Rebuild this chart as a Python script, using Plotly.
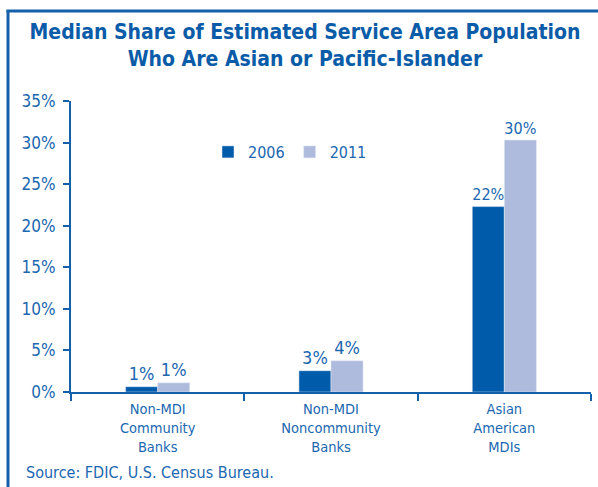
import plotly.graph_objects as go

categories = ["Non-MDI<br>Community<br>Banks", "Non-MDI<br>Noncommunity<br>Banks", "Asian<br>American<br>MDIs"]
values_2006 = [0.64, 2.56, 22.3]
values_2011 = [1.1, 3.76, 30.3]
labels_2006 = ["1%", "3%", "22%"]
labels_2011 = ["1%", "4%", "30%"]
y_ticks = [0, 5, 10, 15, 20, 25, 30, 35]
y_tick_labels = [f"{v}%" for v in y_ticks]

FONT = "DejaVu Sans Condensed, Liberation Sans Narrow, sans-serif"
TXT = "#2067B0"
DARK = "#005BAA"
LIGHT = "#AEBBDD"
FRAME = "#1460AA"

W, H = 598, 487
L, R, T, B = 71, 7, 101, 95
pw, ph = W - L - R, H - T - B

def px_x(x):
    return (x - L) / pw

def px_y(y):
    return (H - B - y) / ph

fig = go.Figure()
fig.add_trace(go.Bar(name="2006", x=categories, y=values_2006, marker_color=DARK,
                     text=labels_2006, textposition="outside", cliponaxis=False,
                     textfont=dict(family=FONT, size=18, color=TXT)))
fig.add_trace(go.Bar(name="2011", x=categories, y=values_2011, marker_color=LIGHT,
                     text=labels_2011, textposition="outside", cliponaxis=False,
                     textfont=dict(family=FONT, size=18, color=TXT)))

fig.update_layout(
    width=W, height=H,
    margin=dict(l=L, r=R, t=T, b=B),
    paper_bgcolor="white", plot_bgcolor="white",
    barmode="group", bargap=0.63, bargroupgap=0,
    font=dict(family=FONT, color=TXT, size=16),
    title=dict(text="<b>Median Share of Estimated Service Area Population<br>Who Are Asian or Pacific-Islander</b>",
               x=0.51, xanchor="center", y=1 - 39 / H, yanchor="middle",
               font=dict(family=FONT, size=21, color="#0B5CA8")),
    legend=dict(orientation="h", x=px_x(208), y=px_y(152), xanchor="left", yanchor="middle",
                font=dict(family=FONT, size=16, color=TXT), bgcolor="rgba(0,0,0,0)",
                itemwidth=30, traceorder="normal"),
    xaxis=dict(showline=True, linecolor=FRAME, linewidth=2, ticks="outside", tickson="boundaries",
               ticklen=7, tickcolor=FRAME, tickwidth=2, ticklabelstandoff=3,
               tickfont=dict(family=FONT, size=14.5, color=TXT), showgrid=False),
    yaxis=dict(range=[0, 35], tickvals=y_ticks, ticktext=y_tick_labels, showline=True,
               linecolor=FRAME, linewidth=2, ticks="outside", ticklen=6, tickcolor=FRAME, tickwidth=2,
               ticklabelstandoff=4,
               tickfont=dict(family=FONT, size=17, color=TXT), showgrid=False, zeroline=False),
    shapes=[
        dict(type="line", xref="paper", yref="paper", x0=px_x(8), x1=px_x(8), y0=px_y(10), y1=px_y(500),
             line=dict(color=FRAME, width=3)),
        dict(type="line", xref="paper", yref="paper", x0=px_x(6.5), x1=px_x(610), y0=px_y(11), y1=px_y(11),
             line=dict(color=FRAME, width=3)),
    ],
    annotations=[
        dict(text="Source: FDIC, U.S. Census Bureau.", xref="paper", yref="paper",
             x=px_x(24), y=px_y(472), xanchor="left", yanchor="middle", showarrow=False,
             font=dict(family=FONT, size=16, color=TXT)),
    ],
)

fig.write_html("out.html", config={"displayModeBar": False},
               post_script="document.body.style.margin='0px';")
